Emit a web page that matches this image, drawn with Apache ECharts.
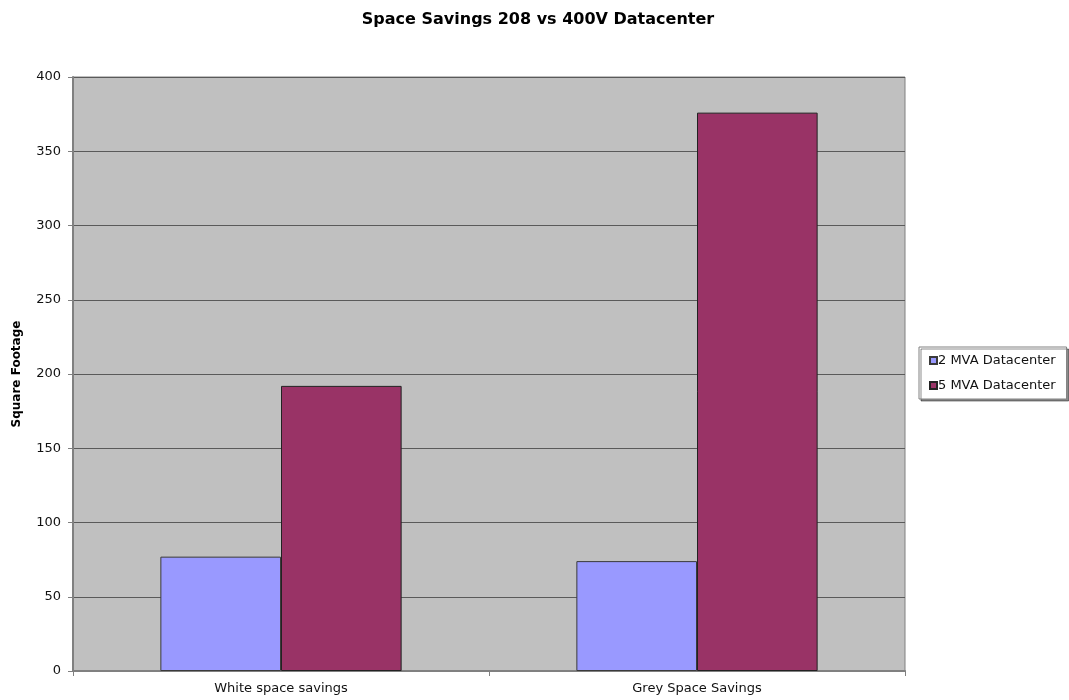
<!DOCTYPE html>
<html>
<head>
<meta charset="utf-8">
<script src="https://cdn.jsdelivr.net/npm/echarts@6/dist/echarts.min.js"></script>
<style>
  html, body { margin: 0; padding: 0; background: #ffffff; }
  #chart { width: 1069px; height: 700px; }
</style>
</head>
<body>
<div id="chart"></div>
<script>
// Categories and series values (square footage saved)
const categories = ['White space savings', 'Grey Space Savings'];
const mva2 = [77, 74];
const mva5 = [192, 376];
const yTicks = [0, 50, 100, 150, 200, 250, 300, 350, 400];

const chart = echarts.init(document.getElementById('chart'));
const font = '"DejaVu Sans", Verdana, sans-serif';

chart.setOption({
  animation: false,
  backgroundColor: '#ffffff',
  title: {
    text: 'Space Savings 208 vs 400V Datacenter',
    left: 533,
    textAlign: 'center',
    top: 7,
    textStyle: { fontFamily: font, fontSize: 16, fontWeight: 'bold', color: '#000' }
  },
  legend: {
    orient: 'vertical',
    left: 919,
    top: 347,
    itemWidth: 7,
    itemHeight: 7,
    itemGap: 12,
    padding: [7, 11, 7, 10],
    borderColor: '#808080',
    borderWidth: 1,
    shadowColor: 'rgba(0,0,0,0.45)',
    shadowOffsetX: 2,
    shadowOffsetY: 2,
    backgroundColor: '#ffffff',
    textStyle: { fontFamily: font, fontSize: 13, color: '#111', padding: [0, 0, 0, -4] },
    data: [
      { name: '2 MVA Datacenter', icon: 'rect' },
      { name: '5 MVA Datacenter', icon: 'rect' }
    ]
  },
  grid: {
    left: 73,
    right: 164,
    top: 77,
    bottom: 29,
    show: true,
    backgroundColor: '#C0C0C0',
    borderColor: '#808080',
    borderWidth: 1
  },
  xAxis: {
    type: 'category',
    data: categories,
    axisLine: { lineStyle: { color: '#808080', width: 2 } },
    axisTick: { show: true, alignWithLabel: false, length: 5, lineStyle: { color: '#808080' } },
    axisLabel: { fontFamily: font, fontSize: 13, color: '#111', margin: 11 }
  },
  yAxis: {
    type: 'value',
    min: yTicks[0],
    max: yTicks[yTicks.length - 1],
    interval: 50,
    name: 'Square Footage',
    nameLocation: 'middle',
    nameGap: 50,
    nameTextStyle: { fontFamily: font, fontSize: 12, fontWeight: 'bold', color: '#000' },
    axisLine: { show: true, lineStyle: { color: '#808080', width: 2 } },
    axisTick: { show: true, length: 5, lineStyle: { color: '#808080' } },
    axisLabel: { fontFamily: font, fontSize: 13, color: '#111', margin: 12 },
    splitLine: { show: true, lineStyle: { color: '#5a5a5a', width: 1 } }
  },
  series: [
    {
      name: '2 MVA Datacenter',
      type: 'bar',
      data: mva2,
      barGap: '0%',
      barCategoryGap: '42%',
      itemStyle: { color: '#9999FF', borderColor: '#3a3a3a', borderWidth: 1 }
    },
    {
      name: '5 MVA Datacenter',
      type: 'bar',
      data: mva5,
      itemStyle: { color: '#993366', borderColor: '#222222', borderWidth: 1 }
    }
  ]
});
</script>
</body>
</html>
